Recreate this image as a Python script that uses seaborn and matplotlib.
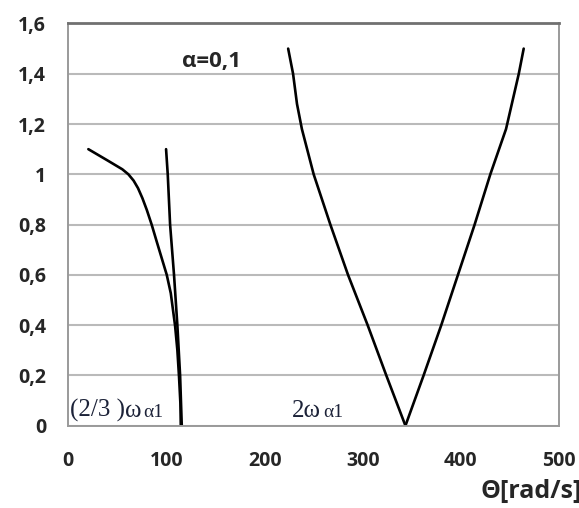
import matplotlib
matplotlib.use("Agg")
import matplotlib.pyplot as plt
import seaborn as sns
import pandas as pd

# ---- data ----
branch1_x = [20.4, 40, 55, 61.2, 66.5, 71.0, 75.5, 80.0, 85.0, 90.1, 95.2, 100.3, 104.4, 108.8, 111.1, 112.8, 114.2, 114.6]
branch1_y = [1.10, 1.055, 1.02, 1.00, 0.975, 0.945, 0.905, 0.858, 0.799, 0.732, 0.666, 0.600, 0.527, 0.397, 0.301, 0.195, 0.089, 0.00]

branch2_x = [99.6, 101.3, 103.7, 107.7, 111.1, 113.9, 115.6]
branch2_y = [1.10, 1.00, 0.80, 0.60, 0.40, 0.20, 0.00]

vleft_x = [224, 229, 233, 238, 250, 267, 285, 305, 324, 343.5]
vleft_y = [1.50, 1.40, 1.28, 1.18, 1.00, 0.80, 0.60, 0.40, 0.20, 0.00]

vright_x = [343.5, 362, 380, 397, 414, 430, 446, 459, 464]
vright_y = [0.00, 0.20, 0.40, 0.60, 0.80, 1.00, 1.18, 1.40, 1.50]

x_ticks = [0, 100, 200, 300, 400, 500]
y_ticks = [0, 0.2, 0.4, 0.6, 0.8, 1.0, 1.2, 1.4, 1.6]
y_labels = ["0", "0,2", "0,4", "0,6", "0,8", "1", "1,2", "1,4", "1,6"]

frames = []
for name, xs, ys in [("b1", branch1_x, branch1_y), ("b2", branch2_x, branch2_y),
                     ("vl", vleft_x, vleft_y), ("vr", vright_x, vright_y)]:
    frames.append(pd.DataFrame({"theta": xs, "val": ys, "curve": name}))
df = pd.concat(frames, ignore_index=True)

sns.set_style("white")
plt.rcParams["font.family"] = ["Open Sans", "DejaVu Sans"]

fig = plt.figure(figsize=(5.79, 5.08), dpi=100)
ax = fig.add_axes([0.118, 0.162, 0.8475, 0.7918])

for yt in y_ticks:
    ax.axhline(yt, color="#bababa", lw=1.5, zorder=0)

sns.lineplot(data=df, x="theta", y="val", units="curve", estimator=None, sort=False,
             color="black", lw=1.9, ax=ax, legend=False)

ax.set_xlim(0, 500)
ax.set_ylim(0, 1.6)
ax.set_xticks(x_ticks)
ax.set_xticklabels([str(t) for t in x_ticks], fontsize=14, fontweight="bold")
ax.set_yticks(y_ticks)
ax.set_yticklabels(y_labels, fontsize=14, fontweight="bold")
ax.tick_params(axis="both", direction="out", length=6, width=1.3, color="#a8a8a8")
ax.tick_params(axis="y", pad=10)
ax.tick_params(axis="x", pad=12)
ax.set_xlabel("")
ax.set_ylabel("")

for s in ["left", "bottom", "right"]:
    ax.spines[s].set_color("#9a9a9a")
    ax.spines[s].set_linewidth(1.4)
ax.spines["top"].set_color("#707070")
ax.spines["top"].set_linewidth(2.0)

ax.text(145.5, 1.447, "α=0,1", fontsize=16, fontweight="bold", ha="center", va="center")

serif = ["Liberation Serif", "DejaVu Serif"]
tc = "#1c2238"
ax.text(1.7, 0.036, "(2/3 )", fontsize=18, family=serif, color=tc, ha="left", va="baseline")
ax.text(57.8, 0.036, "ω", fontsize=18, family=serif, color=tc, ha="left", va="baseline")
ax.text(76.5, 0.036, "α1", fontsize=14, family=serif, color=tc, ha="left", va="baseline")
ax.text(227.7, 0.036, "2ω", fontsize=18, family=serif, color=tc, ha="left", va="baseline")
ax.text(260.0, 0.036, "α1", fontsize=14, family=serif, color=tc, ha="left", va="baseline")

fig.text(481 / 579, 1 - 491 / 508, "Θ[rad/s]", fontsize=18, fontweight="bold",
         ha="left", va="center")

fig.savefig("out.png", dpi=100)
